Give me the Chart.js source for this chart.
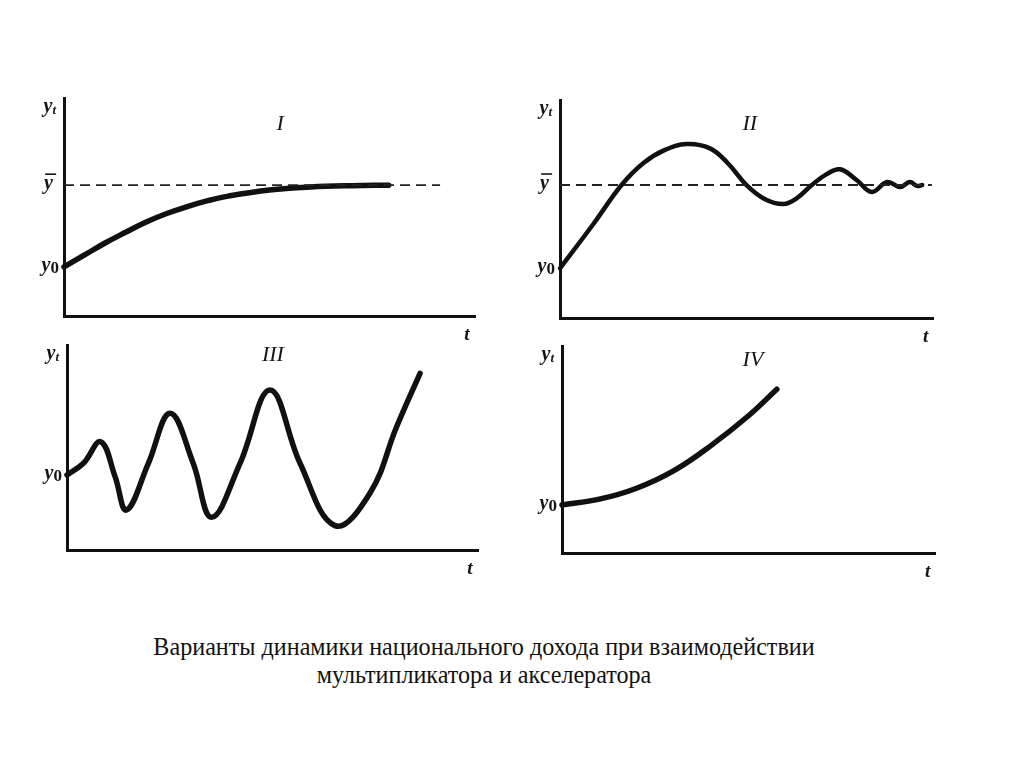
<!DOCTYPE html>
<html>
<head>
<meta charset="utf-8">
<script src="https://cdn.jsdelivr.net/npm/chart.js@4.4.0/dist/chart.umd.min.js"></script>
<style>
  html, body { margin: 0; padding: 0; background: #fff; }
  #page { position: relative; width: 1024px; height: 767px; overflow: hidden; }
  canvas { position: absolute; }
  #caption {
    position: absolute; left: 84px; width: 800px; top: 633px;
    text-align: center; font: 25px "Liberation Serif", serif; color: #111;
    line-height: 28px; transform: scaleX(0.965); transform-origin: 50% 0;
  }
</style>
</head>
<body>
<div id="page">
  <canvas id="c1"></canvas>
  <canvas id="c2"></canvas>
  <canvas id="c3"></canvas>
  <canvas id="c4"></canvas>
  <div id="caption">Варианты динамики национального дохода при взаимодействии<br>мультипликатора и акселератора</div>
</div>
<script>
// data, in axis units (0..100 along each axis)
const t1 = [0, 5, 10, 15, 20, 25, 30, 35, 40, 50, 60, 70, 79];
const y1 = [22.5, 28, 33.5, 38.4, 43.1, 47, 50.2, 52.9, 55, 57.8, 59.2, 59.8, 60];
const ybar1 = 60;
const dash1 = [0, 91.5];

const t2 = [0, 8.9, 16.5, 22.3, 28, 34, 40.2, 45, 50, 55, 59.9, 63.5, 67.5, 71.5, 75.1, 79.5, 83.6, 87.7, 91.2, 93.8, 95.7, 97.1];
const y2 = [22.8, 43, 61, 71, 77, 79.8, 77.8, 71, 61, 54.5, 52.3, 55, 61, 66, 68.2, 63.3, 57.8, 62.4, 60.1, 62.4, 60.6, 61];
const ybar2 = 61;
const dash2 = [0, 99.7];

const t3 = [0, 4, 8.2, 11.7, 14.5, 19.8, 25.1, 30.7, 35.2, 42.1, 49.4, 56.7, 65.2, 73.7, 80.2, 85.9];
const y3 = [36.6, 42.3, 52.8, 35.8, 19.5, 42.3, 66.7, 42.3, 16, 42.3, 78, 42.3, 11.9, 27.7, 60.1, 86.2];

const t4 = [0, 10, 20, 30, 40, 50, 57.6];
const y4 = [23.2, 26, 31.3, 39.8, 52, 66.3, 79.1];

const numerals = ["I", "II", "III", "IV"];
const numeralPos = [[52.6, 88], [50.9, 89], [50.1, 95], [51.2, 93.2]];

function pts(xs, ys) { return xs.map((x, i) => ({ x: x, y: ys[i] })); }

const SERIF = "'Liberation Serif', 'DejaVu Serif', serif";

function drawY(ctx, right, baseline, sub, subItalic) {
  ctx.font = "italic bold 20px " + SERIF;
  const wy = ctx.measureText("y").width;
  let ws = 0, subFont = "";
  if (sub) {
    subFont = (subItalic ? "italic bold 13px " : "bold 17px ") + SERIF;
    ctx.font = subFont;
    ws = ctx.measureText(sub).width;
  }
  ctx.font = "italic bold 20px " + SERIF;
  ctx.textAlign = "left";
  ctx.textBaseline = "alphabetic";
  ctx.fillText("y", right - ws - wy, baseline);
  if (sub) {
    ctx.font = subFont;
    ctx.fillText(sub, right - ws, baseline + 2);
  }
  return right - ws - wy;
}

const panelLabels = {
  id: "panelLabels",
  afterDraw(chart, args, opts) {
    const { ctx, chartArea, scales } = chart;
    ctx.save();
    ctx.fillStyle = "#151515";
    ctx.strokeStyle = "#151515";
    // y_t at top of the axis
    drawY(ctx, chartArea.left - 8, chartArea.top + 14, "t", true);
    // y0
    drawY(ctx, chartArea.left - 5, scales.y.getPixelForValue(opts.y0) + 4, "0", false);
    // y bar
    if (opts.ybar != null) {
      const yb = scales.y.getPixelForValue(opts.ybar);
      const left = drawY(ctx, chartArea.left - 11, yb + 4, null);
      ctx.lineWidth = 1.6;
      ctx.beginPath();
      ctx.moveTo(left + 1, yb - 11);
      ctx.lineTo(left + 12, yb - 11);
      ctx.stroke();
    }
    // roman numeral
    ctx.font = "italic 22px " + SERIF;
    ctx.textAlign = "center";
    ctx.textBaseline = "middle";
    ctx.fillText(opts.numeral, scales.x.getPixelForValue(opts.numeralAt[0]), scales.y.getPixelForValue(opts.numeralAt[1]));
    // t under the end of the x axis
    ctx.font = "italic bold 19px " + SERIF;
    ctx.fillText("t", scales.x.getPixelForValue(98), chartArea.bottom + 19);
    ctx.restore();
  }
};

function makePanel(id, area, datasets, labelOpts) {
  const padL = 50, padT = 20, padR = 20, padB = 34;
  const cv = document.getElementById(id);
  cv.width = area.r - area.l + padL + padR;
  cv.height = area.b - area.t + padT + padB;
  cv.style.left = (area.l - padL) + "px";
  cv.style.top = (area.t - padT) + "px";
  const axis = {
    type: "linear", min: 0, max: 100,
    grid: { display: false, drawTicks: false },
    ticks: { display: false },
    border: { display: true, color: "#111", width: 3 },
  };
  return new Chart(cv, {
    type: "line",
    data: { datasets: datasets },
    options: {
      responsive: false,
      animation: false,
      devicePixelRatio: 1,
      layout: { padding: { left: padL, top: padT, right: padR, bottom: padB } },
      scales: {
        x: Object.assign({}, axis, { position: "bottom", afterFit: s => { s.height = 0; } }),
        y: Object.assign({}, axis, { position: "left", afterFit: s => { s.width = 0; } }),
      },
      plugins: { legend: { display: false }, tooltip: { enabled: false }, panelLabels: labelOpts },
      elements: { point: { radius: 0 } },
    },
    plugins: [panelLabels],
  });
}

function curve(xs, ys, w) {
  return {
    data: pts(xs, ys), borderColor: "#111", borderWidth: w,
    tension: 0.4, clip: false, borderCapStyle: "round", borderJoinStyle: "round",
  };
}
function dashed(xs, v) {
  return {
    data: xs.map(x => ({ x: x, y: v })), borderColor: "#222", borderWidth: 1.8,
    borderDash: [10, 6], clip: false,
  };
}

makePanel("c1", { l: 64, t: 98, r: 475, b: 316 },
  [dashed(dash1, ybar1), curve(t1, y1, 5.5)],
  { y0: y1[0], ybar: ybar1, numeral: numerals[0], numeralAt: numeralPos[0] });
makePanel("c2", { l: 560, t: 100, r: 933, b: 318 },
  [dashed(dash2, ybar2), curve(t2, y2, 4.5)],
  { y0: y2[0], ybar: ybar2, numeral: numerals[1], numeralAt: numeralPos[1] });
makePanel("c3", { l: 67, t: 345, r: 478, b: 550 },
  [curve(t3, y3, 5.5)],
  { y0: y3[0], ybar: null, numeral: numerals[2], numeralAt: numeralPos[2] });
makePanel("c4", { l: 562, t: 346, r: 935, b: 553 },
  [curve(t4, y4, 5.5)],
  { y0: y4[0], ybar: null, numeral: numerals[3], numeralAt: numeralPos[3] });
</script>
</body>
</html>
